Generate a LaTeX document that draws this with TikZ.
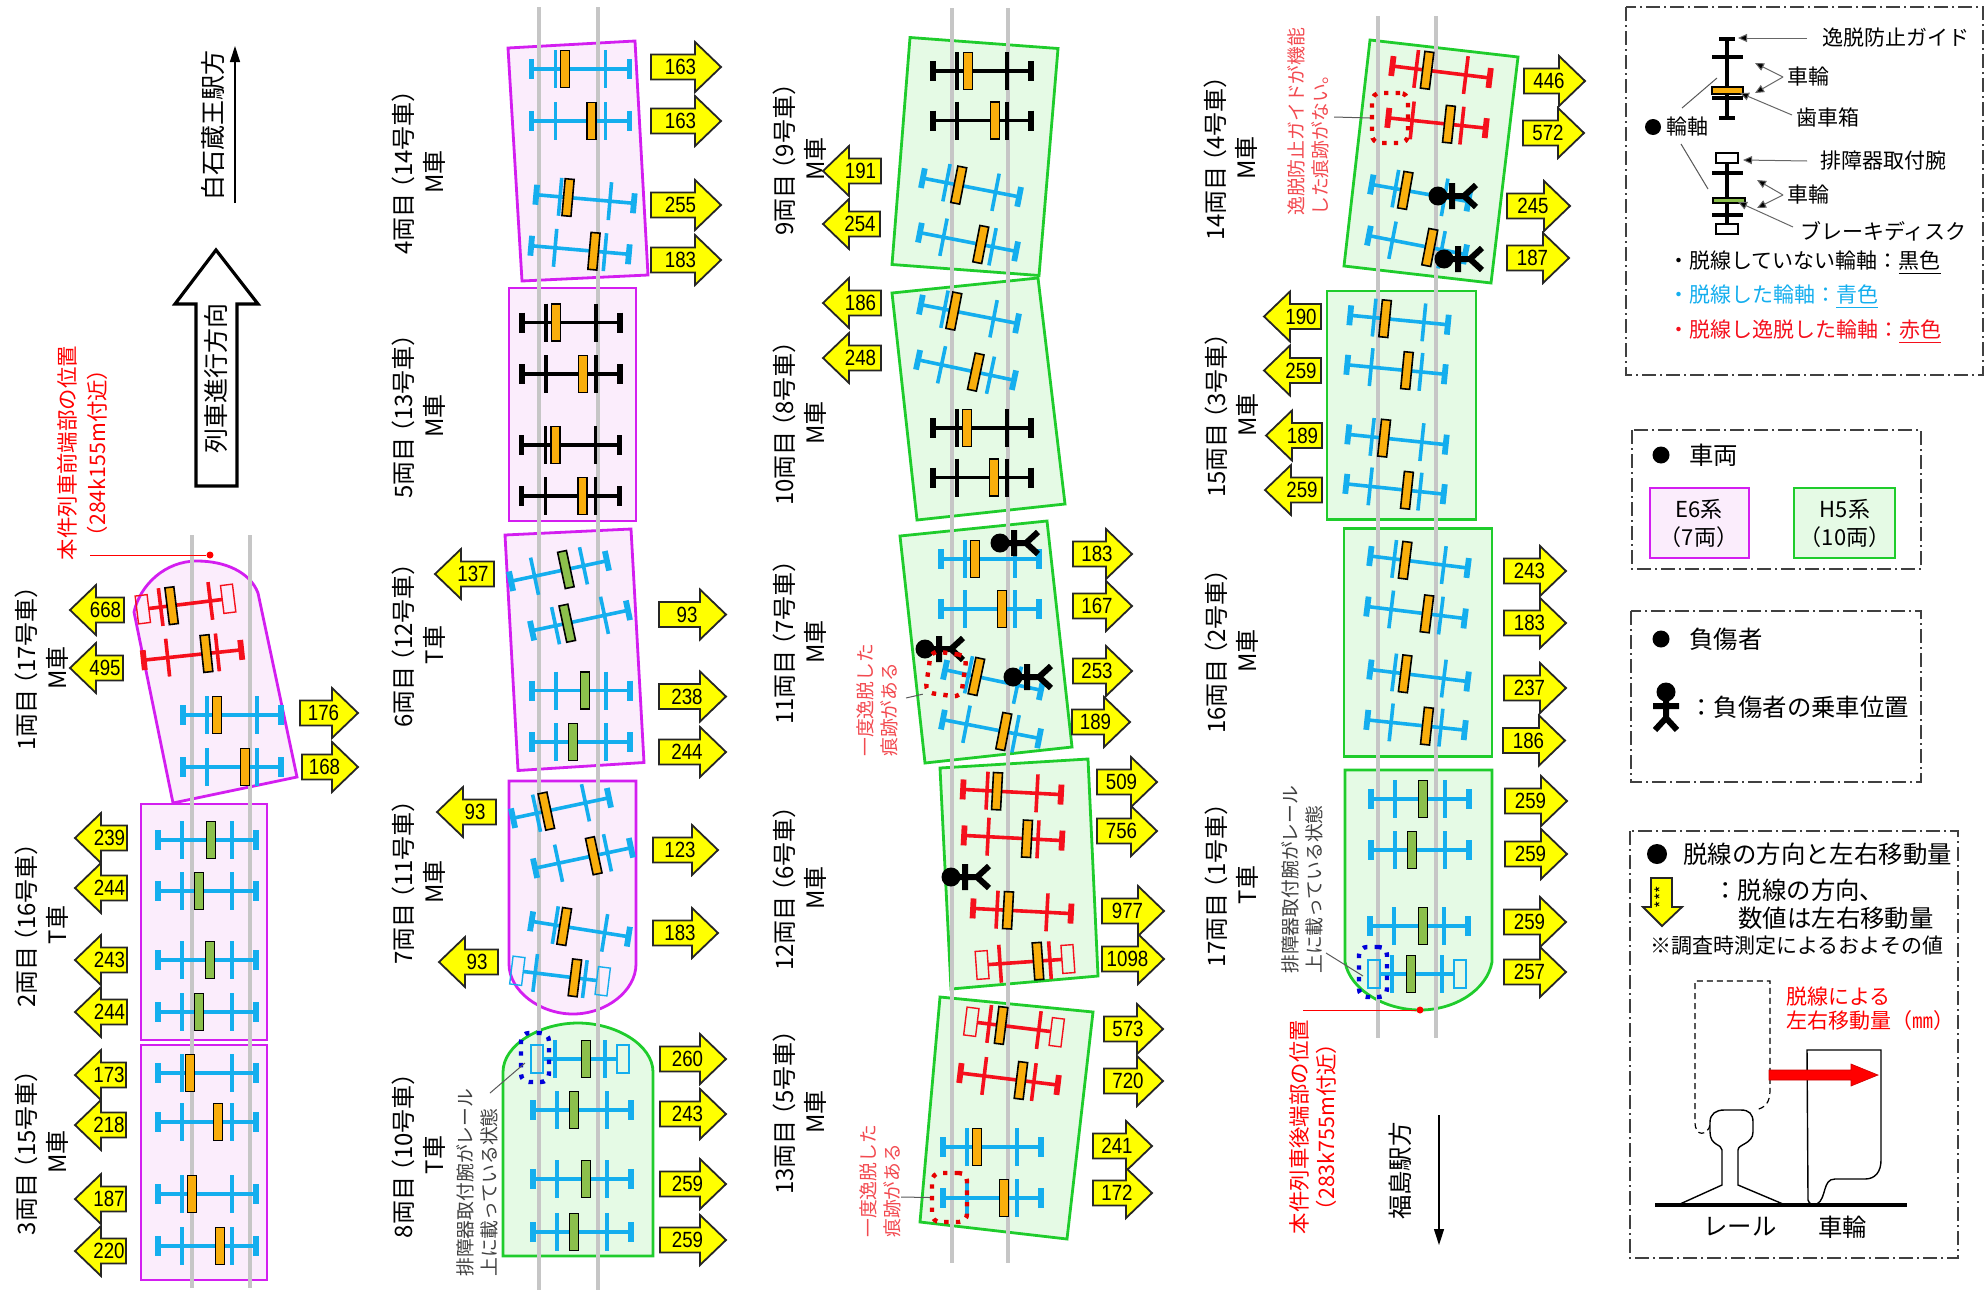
\documentclass[tikz,border=0pt]{standalone}
\usepackage{fontspec}
\usepackage{tikz}
\usetikzlibrary{arrows.meta}
\setmainfont{Noto Sans CJK JP}
\newfontfamily\numfont[FakeStretch=0.85]{Liberation Sans}

\definecolor{axleblue}{HTML}{14AEEE}
\definecolor{axlered}{HTML}{F5101C}
\definecolor{gearorange}{HTML}{F9AE0C}
\definecolor{diskgreen}{HTML}{8CC04C}
\definecolor{eline}{HTML}{D31EF0}
\definecolor{efill}{HTML}{FBEDFC}
\definecolor{hline}{HTML}{1FCC2C}
\definecolor{hfill}{HTML}{E5FAE5}
\definecolor{railgrey}{HTML}{C6C6C6}
\definecolor{notered}{HTML}{F24A50}
\definecolor{valyellow}{HTML}{FFFF00}

\tikzset{
	ecar/.style={draw=eline, fill=efill, line width=1.4pt},
	hcar/.style={draw=hline, fill=hfill, line width=1.4pt},
	rail/.style={draw=railgrey, line width=2pt},
	axleline/.style={line width=1.8pt},
	guideline/.style={line width=2.9pt},
	gearbox/.style={draw=black, line width=0.8pt},
	armbox/.style={line width=0.7pt},
	valarrow/.style={draw=black!85, fill=valyellow, line width=0.9pt, line join=miter},
	valtext/.style={inner sep=0, font=\numfont\fontsize{11}{12}\selectfont},
	carlabel/.style={rotate=90, align=center, inner sep=0, font=\fontsize{12}{15.5}\selectfont},
	notetext/.style={rotate=90, anchor=west, align=left, inner sep=0, font=\fontsize{9.4}{12}\selectfont},
	dotmark/.style={rounded corners=4pt, line width=2.2pt, dash pattern=on 2.2pt off 3.6pt, minimum width=#1, inner sep=0},
	leader/.style={draw=black!65, line width=0.5pt},
	legendbox/.style={draw=black!75, line width=0.6pt, dash pattern=on 7pt off 2pt on 1pt off 2pt},
	lgtext/.style={anchor=west, inner sep=0, font=\fontsize{10.5}{13}\selectfont},
	lgbig/.style={anchor=west, inner sep=0, font=\fontsize{12.2}{14}\selectfont},
	lghead/.style={draw=black!60, line width=0.5pt, -{Triangle[length=4.5pt,width=4pt,fill=black]}},
	reddot/.style={circle, fill=red, inner sep=0, minimum size=3.5pt},
	bulletdot/.style={circle, fill=black, inner sep=0, minimum size=#1},
}

\newcommand{\carno}[1]{\kern-.3em（#1）\kern-.45em}
% colour, box offset, box colour
\newcommand{\axlecore}[3]{%
	\draw[axleline,draw=#1] (-25,-19) -- (-25,19) (25,-19) -- (25,19);
	\filldraw[gearbox,fill=#3] (#2-4.5,-18.5) rectangle (#2+4.5,18.5);
}
% x, y, angle, colour, box offset, box colour
\newcommand{\axle}[6]{%
	\begin{scope}[shift={(#1,#2)},rotate=#3]
		\draw[axleline,draw=#4] (-49,0) -- (49,0);
		\draw[guideline,draw=#4] (-49,-10) -- (-49,10) (49,-10) -- (49,10);
		\axlecore{#4}{#5}{#6}
	\end{scope}
}
\newcommand{\armaxle}[6]{%
	\begin{scope}[shift={(#1,#2)},rotate=#3]
		\draw[axleline,draw=#4] (-37,0) -- (37,0);
		\draw[armbox,draw=#4] (-49,-14) rectangle (-37,14) (37,-14) rectangle (49,14);
		\axlecore{#4}{#5}{#6}
	\end{scope}
}
% base, tip, y, value
\newcommand{\rightval}[4]{%
	\draw[valarrow] (#1,#3-12.5) -- (#2-26,#3-12.5) -- (#2-26,#3-25) -- (#2,#3) -- (#2-26,#3+25) -- (#2-26,#3+12.5) -- (#1,#3+12.5) -- cycle;
	\node[valtext] (val#3x#1) at ({(#1+#2-25)/2+7},#3) {#4};
}
\newcommand{\leftval}[4]{%
	\draw[valarrow] (#1,#3-12.5) -- (#2+26,#3-12.5) -- (#2+26,#3-25) -- (#2,#3) -- (#2+26,#3+25) -- (#2+26,#3+12.5) -- (#1,#3+12.5) -- cycle;
	\node[valtext] (val#3x#1) at ({(#1+#2+25)/2-4},#3) {#4};
}
\newcommand{\person}[3]{%
	\begin{scope}[shift={(#1,#2)},rotate=#3]
		\fill[black] (0,0) circle (9.5);
		\draw[black, line width=3pt] (0,0) -- (26,0) (14,-13) -- (14,13) (38,-11) -- (26,0) -- (38,11);
	\end{scope}
}

\begin{document}
\begin{tikzpicture}[x=0.5pt, y=-0.5pt]
	\useasboundingbox (0,0) rectangle (1984,1290);

	% labels
	\node[carlabel] (car1) at (42,668) {1両目\carno{17号車}\\M車};
	\node[carlabel] (car2) at (42,925) {2両目\carno{16号車}\\T車};
	\node[carlabel] (car3) at (42,1152) {3両目\carno{15号車}\\M車};
	\node[carlabel] (car4) at (419,172) {4両目\carno{14号車}\\M車};
	\node[carlabel] (car5) at (419,416) {5両目\carno{13号車}\\M車};
	\node[carlabel] (car6) at (419,645) {6両目\carno{12号車}\\T車};
	\node[carlabel] (car7) at (419,882) {7両目\carno{11号車}\\M車};
	\node[carlabel] (car8) at (419,1155) {8両目\carno{10号車}\\T車};
	\node[carlabel] (car9) at (800,159) {9両目\carno{9号車}\\M車};
	\node[carlabel] (car10) at (800,423) {10両目\carno{8号車}\\M車};
	\node[carlabel] (car11) at (800,642) {11両目\carno{7号車}\\M車};
	\node[carlabel] (car12) at (800,888) {12両目\carno{6号車}\\M車};
	\node[carlabel] (car13) at (800,1112) {13両目\carno{5号車}\\M車};
	\node[carlabel] (car14) at (1231,158) {14両目\carno{4号車}\\M車};
	\node[carlabel] (car15) at (1232,415) {15両目\carno{3号車}\\M車};
	\node[carlabel] (car16) at (1232,651) {16両目\carno{2号車}\\M車};
	\node[carlabel] (car17) at (1232,885) {17両目\carno{1号車}\\T車};

	% car bodies
	\draw[ecar] (134,612) .. controls (140,585) and (165,561) .. (197,561) .. controls (225,561) and (250,572) .. (258,593) -- (297,777) -- (173,803) -- cycle;
	\draw[ecar] (141,804) rectangle (267,1040);
	\draw[ecar] (141,1045) rectangle (267,1280);
	\draw[ecar] (508,48) -- (635,41) -- (648,275) -- (522,281) -- cycle;
	\draw[ecar] (509,288) rectangle (636,521);
	\draw[ecar] (505,535) -- (631,529) -- (644,762.5) -- (518,770.5) -- cycle;
	\draw[ecar] (509,781) -- (636,781) -- (636,964) .. controls (636,991) and (606,1014) .. (573,1014) .. controls (540,1014) and (509,991) .. (509,964) -- cycle;
	\draw[hcar] (503,1256) -- (503,1072) .. controls (503,1045) and (540,1023) .. (578,1023) .. controls (616,1023) and (653,1045) .. (653,1072) -- (653,1256) -- cycle;
	\draw[hcar] (910,37.5) -- (1058,48.5) -- (1039,275.5) -- (892,264.5) -- cycle;
	\draw[hcar] (892,293) -- (1038,278) -- (1065,504) -- (917,520) -- cycle;
	\draw[hcar] (900,536) -- (1047,521) -- (1072,747) -- (925,763) -- cycle;
	\draw[hcar] (940,768) -- (1088,759) -- (1098,976) -- (951,989) -- cycle;
	\draw[hcar] (940,997) -- (1093,1012) -- (1067,1239) -- (920,1222) -- cycle;
	\draw[hcar] (1370,40) -- (1518,57) -- (1491,283) -- (1344,266) -- cycle;
	\draw[hcar] (1327,291) rectangle (1476,519.5);
	\draw[hcar] (1344,528.5) rectangle (1492,756.5);
	\draw[hcar] (1345,770) -- (1492,770) -- (1492,962) .. controls (1487,990) and (1455,1010) .. (1420,1010) .. controls (1385,1010) and (1350,990) .. (1345,962) -- cycle;

	% rails
	\draw[rail] (192,535) -- (192,1288);
	\draw[rail] (250,535) -- (250,1288);
	\draw[rail] (539,7) -- (539,1290);
	\draw[rail] (598,7) -- (598,1290);
	\draw[rail] (952,8) -- (952,1263);
	\draw[rail] (1008,8) -- (1008,1263);
	\draw[rail] (1378,16) -- (1378,1038);
	\draw[rail] (1436,16) -- (1436,1038);

	% axles
	\armaxle{185.5}{604}{7}{axlered}{-14}{gearorange}
	\axle{192.5}{655}{6}{axlered}{14}{gearorange}
	\axle{232}{715}{0}{axleblue}{-15}{gearorange}
	\axle{232}{767}{0}{axleblue}{13}{gearorange}
	\axle{207}{840}{0}{axleblue}{4}{diskgreen}
	\axle{207}{891}{0}{axleblue}{-8}{diskgreen}
	\axle{207}{960}{0}{axleblue}{3}{diskgreen}
	\axle{207}{1012}{0}{axleblue}{-8}{diskgreen}
	\axle{207}{1073}{0}{axleblue}{-17}{gearorange}
	\axle{207}{1122}{0}{axleblue}{11}{gearorange}
	\axle{207}{1194}{0}{axleblue}{-15}{gearorange}
	\axle{207}{1246}{0}{axleblue}{13}{gearorange}

	\axle{580.5}{69}{0}{axleblue}{-15.5}{gearorange}
	\axle{580.5}{121}{0}{axleblue}{11}{gearorange}
	\axle{585}{199}{-5}{axleblue}{-17}{gearorange}
	\axle{580}{250}{-5}{axleblue}{14}{gearorange}
	\axle{571}{322.5}{0}{black}{-15}{gearorange}
	\axle{571}{374}{0}{black}{12}{gearorange}
	\axle{570.5}{445}{0}{black}{-15}{gearorange}
	\axle{570.5}{496}{0}{black}{12}{gearorange}
	\axle{559}{571}{12}{axleblue}{7}{diskgreen}
	\axle{580}{620.5}{12}{axleblue}{-13}{diskgreen}
	\axle{581}{690.5}{0}{axleblue}{4}{diskgreen}
	\axle{581}{742}{0}{axleblue}{-8}{diskgreen}
	\axle{561}{808}{12}{axleblue}{-15}{gearorange}
	\axle{583}{858}{12}{axleblue}{11}{gearorange}
	\axle{580}{929}{-9}{axleblue}{-16}{gearorange}
	\armaxle{560}{976}{-7}{axleblue}{15}{gearorange}
	\armaxle{580}{1059}{0}{axleblue}{6}{diskgreen}
	\axle{582}{1110}{0}{axleblue}{-8}{diskgreen}
	\axle{582}{1179}{0}{axleblue}{4}{diskgreen}
	\axle{582}{1232}{0}{axleblue}{-8}{diskgreen}

	\axle{982}{71}{0}{black}{-14}{gearorange}
	\axle{982}{120.5}{0}{black}{13}{gearorange}
	\axle{971}{187.5}{-11}{axleblue}{-12.5}{gearorange}
	\axle{968}{242}{-11}{axleblue}{13}{gearorange}
	\axle{969}{314}{-11}{axleblue}{-15.5}{gearorange}
	\axle{966}{370}{-12}{axleblue}{10}{gearorange}
	\axle{982}{428}{0}{black}{-15}{gearorange}
	\axle{982}{477.5}{0}{black}{12}{gearorange}
	\axle{990}{559}{0}{axleblue}{-15}{gearorange}
	\axle{990}{609}{0}{axleblue}{12}{gearorange}
	\axle{993}{680}{-12}{axleblue}{-17}{gearorange}
	\axle{991}{729}{-11}{axleblue}{13}{gearorange}
	\axle{1012}{792}{-3}{axlered}{-15}{gearorange}
	\axle{1013}{838}{-3}{axlered}{14}{gearorange}
	\axle{1022}{911}{-3}{axlered}{-14}{gearorange}
	\armaxle{1025}{962}{4}{axlered}{13}{gearorange}
	\armaxle{1014}{1027}{-7}{axlered}{-13}{gearorange}
	\axle{1009}{1079}{-7}{axlered}{12}{gearorange}
	\axle{992}{1147}{0}{axleblue}{-15}{gearorange}
	\axle{992}{1198}{0}{axleblue}{12}{gearorange}

	\axle{1441}{72}{-7}{axlered}{-14}{gearorange}
	\axle{1437}{123}{-6}{axlered}{12}{gearorange}
	\axle{1420}{193}{-10}{axleblue}{-15}{gearorange}
	\axle{1417}{245}{-11}{axleblue}{13}{gearorange}
	\axle{1399}{320}{-5.5}{axleblue}{-14}{gearorange}
	\axle{1396}{369.5}{-5.5}{axleblue}{11}{gearorange}
	\axle{1397}{439.5}{-6}{axleblue}{-13}{gearorange}
	\axle{1395}{489}{-6}{axleblue}{12}{gearorange}
	\axle{1419}{562}{-7}{axleblue}{-14}{gearorange}
	\axle{1416}{612.5}{-7}{axleblue}{11}{gearorange}
	\axle{1419}{675.5}{-7}{axleblue}{-14}{gearorange}
	\axle{1416}{725}{-6}{axleblue}{11}{gearorange}
	\axle{1420}{799}{0}{axleblue}{3}{diskgreen}
	\axle{1420}{850}{0}{axleblue}{-8}{diskgreen}
	\axle{1419}{926}{0}{axleblue}{4}{diskgreen}
	\armaxle{1417}{974}{0}{axleblue}{-6}{diskgreen}

	% passengers
	\person{1000}{543}{0}
	\person{925}{649}{0}
	\person{1013}{677}{0}
	\person{951}{877}{0}
	\person{1438}{196}{0}
	\person{1444}{259}{0}

	% movement values
	\leftval{124}{70}{610}{668}
	\leftval{123}{70}{668}{495}
	\rightval{300}{358}{713}{176}
	\rightval{302}{358}{767}{168}
	\leftval{127}{75}{838}{239}
	\leftval{127}{75}{888}{244}
	\leftval{127}{75}{960}{243}
	\leftval{127}{75}{1012}{244}
	\leftval{126}{75}{1075}{173}
	\leftval{126}{75}{1125}{218}
	\leftval{126}{75}{1199}{187}
	\leftval{126}{75}{1251}{220}

	\rightval{651}{721}{67}{163}
	\rightval{651}{721}{121}{163}
	\rightval{651}{721}{205}{255}
	\rightval{651}{721}{260}{183}
	\leftval{494}{435}{574}{137}
	\rightval{659}{726}{614.5}{93}
	\rightval{659}{726}{696.5}{238}
	\rightval{659}{726}{752}{244}
	\leftval{496}{437}{812}{93}
	\rightval{653}{718}{850}{123}
	\rightval{653}{718}{933}{183}
	\leftval{498}{439}{962}{93}
	\rightval{660}{726}{1059}{260}
	\rightval{660}{726}{1114}{243}
	\rightval{660}{726}{1184}{259}
	\rightval{660}{726}{1240}{259}

	\leftval{881}{823}{171}{191}
	\leftval{880}{823}{224}{254}
	\leftval{881}{823}{303}{186}
	\leftval{881}{823}{358}{248}
	\rightval{1073}{1132}{554}{183}
	\rightval{1073}{1132}{606}{167}
	\rightval{1073}{1132}{671}{253}
	\rightval{1072}{1130}{722}{189}
	\rightval{1097}{1157}{782}{509}
	\rightval{1097}{1157}{831}{756}
	\rightval{1102}{1164}{911}{977}
	\rightval{1102}{1164}{959}{1098}
	\rightval{1104}{1163}{1029}{573}
	\rightval{1104}{1163}{1081}{720}
	\rightval{1093}{1152}{1146}{241}
	\rightval{1093}{1152}{1193}{172}

	\rightval{1524}{1585}{81}{446}
	\rightval{1523}{1584}{133}{572}
	\rightval{1507}{1570}{206}{245}
	\rightval{1507}{1569}{258}{187}
	\leftval{1321}{1264}{316.5}{190}
	\leftval{1321}{1264}{370.5}{259}
	\leftval{1322}{1266}{435.5}{189}
	\leftval{1322}{1265}{490}{259}
	\rightval{1504}{1566}{571}{243}
	\rightval{1504}{1566}{623}{183}
	\rightval{1504}{1566}{688}{237}
	\rightval{1503}{1565}{740.5}{186}
	\rightval{1505}{1567}{801}{259}
	\rightval{1505}{1567}{854}{259}
	\rightval{1504}{1566}{922}{259}
	\rightval{1504}{1566}{972}{257}

	% marks and notes
	\node[dotmark=14pt, minimum height=24.5pt, draw=blue!85!black] (mark8) at (535,1057.5) {};
	\node[dotmark=14pt, minimum height=25pt, draw=blue!85!black] (mark17) at (1373,972) {};
	\node[dotmark=18pt, minimum height=21pt, draw=red!90!black, rotate=-8] (mark11) at (946,674) {};
	\node[dotmark=17.5pt, minimum height=24.5pt, draw=red!90!black] (mark13) at (949.5,1197.5) {};
	\node[dotmark=18pt, minimum height=25pt, draw=red!90!black] (mark14) at (1390,118) {};

	\node[notetext, text=black!75] (note8) at (477,1277) {排障器取付腕がレール\\上に載っている状態};
	\node[notetext, text=black!75] (note17) at (1302,974) {排障器取付腕がレール\\上に載っている状態};
	\node[notetext, text=notered] (note11) at (877,757) {一度逸脱した\\痕跡がある};
	\node[notetext, text=notered] (note13) at (880,1238) {一度逸脱した\\痕跡がある};
	\node[notetext, text=notered] (note14) at (1308,216) {逸脱防止ガイドが機能\\した痕跡がない。};

	\coordinate (lead8) at (490,1093);
	\coordinate (lead17) at (1326,953);
	\coordinate (lead11) at (906,698);
	\coordinate (lead13) at (901,1197);
	\coordinate (lead14) at (1334,117);
	\coordinate (hit8) at (525,1063);
	\coordinate (hit17) at (1363,976);
	\draw[leader] (lead8) -- (hit8);
	\draw[leader] (lead17) -- (hit17);
	\draw[leader] (lead11) -- (mark11.south west);
	\draw[leader] (lead13) -- (mark13.west);
	\draw[leader] (lead14) -- (mark14.west);

	% train ends
	\node[rotate=90, align=center, inner sep=0, text=red, font=\fontsize{10.7}{15}\selectfont] (frontnote) at (82,453) {本件列車前端部の位置\\（284k155m付近）};
	\node[rotate=90, align=center, inner sep=0, text=red, font=\fontsize{10.7}{13.5}\selectfont] (rearnote) at (1313,1127) {本件列車後端部の位置\\（283k755m付近）};
	\node[reddot] (frontdot) at (210,555) {};
	\node[reddot] (reardot) at (1420,1010) {};
	\coordinate (frontend) at (90,555);
	\coordinate (rearend) at (1303,1010);
	\draw[red, line width=0.5pt] (frontend) -- (frontdot);
	\draw[red, line width=0.5pt] (rearend) -- (reardot);

	% directions
	\draw[black, line width=1.6pt, fill=white] (216,250) -- (258,304) -- (237,304) -- (237,486) -- (196,486) -- (196,304) -- (175,304) -- cycle;
	\node[rotate=90, inner sep=0, font=\fontsize{12.5}{14}\selectfont] (travel) at (216,378) {列車進行方向};
	\node[rotate=90, inner sep=0, font=\fontsize{12.5}{14}\selectfont] (shiroishi) at (213,125) {白石蔵王駅方};
	\coordinate (northfrom) at (235,203);
	\coordinate (northto) at (235,46);
	\draw[line width=0.6pt, -{Triangle[length=8pt,width=5pt]}] (northfrom) -- (northto);
	\node[rotate=90, inner sep=0, font=\fontsize{12.2}{14}\selectfont] (fukushima) at (1400,1171) {福島駅方};
	\coordinate (southfrom) at (1439,1115);
	\coordinate (southto) at (1439,1245);
	\draw[line width=0.6pt, -{Triangle[length=8pt,width=5pt]}] (southfrom) -- (southto);

	% legend: axles
	\draw[legendbox] (1626,7) rectangle (1983,375);
	\draw[black, line width=1.6pt] (1727,39) -- (1727,118) (1712,57) -- (1743,57) (1712,98) -- (1743,98);
	\draw[black, line width=2.2pt] (1719,39) -- (1735,39) (1719,118) -- (1735,118);
	\filldraw[gearbox, fill=gearorange] (1712,87) rectangle (1743,94);
	\draw[black, line width=1.6pt] (1727,163) -- (1727,224) (1712,173) -- (1743,173) (1712,215) -- (1743,215);
	\draw[gearbox, fill=white] (1716,153) rectangle (1738,163);
	\draw[gearbox, fill=white] (1716,224) rectangle (1738,234);
	\filldraw[gearbox, fill=diskgreen] (1713,198) rectangle (1745,203);

	\node[lgtext] (lgguide) at (1822,38) {逸脱防止ガイド};
	\node[lgtext] (lgwheela) at (1787,77) {車輪};
	\node[lgtext] (lggear) at (1796,118) {歯車箱};
	\node[lgtext] (lgaxle) at (1666,127) {輪軸};
	\node[bulletdot=8pt] (lgaxledot) at (1653,127) {};
	\node[lgtext] (lgarm) at (1820,161) {排障器取付腕};
	\node[lgtext] (lgwheelb) at (1787,195) {車輪};
	\node[lgtext] (lgdisc) at (1800,231) {ブレーキディスク};
	\coordinate (lgguidetip) at (1738,38);
	\coordinate (lgwheeltipa) at (1755,63);
	\coordinate (lgwheeltipb) at (1755,93);
	\coordinate (lggeartip) at (1740,93);
	\coordinate (lgarmtip) at (1743,160);
	\coordinate (lgwheeltipc) at (1757,180);
	\coordinate (lgwheeltipd) at (1757,208);
	\coordinate (lgdisctip) at (1738,202);
	\coordinate (lgaxleup) at (1717,78);
	\coordinate (lgaxlelow) at (1708,189);
	\draw[lghead] ([xshift=-7.5pt]lgguide.west) -- (lgguidetip);
	\draw[lghead] ([xshift=-2pt]lgwheela.west) -- (lgwheeltipa);
	\draw[lghead] ([xshift=-2pt]lgwheela.west) -- (lgwheeltipb);
	\draw[lghead] ([xshift=-2pt,yshift=1.5pt]lggear.west) -- (lggeartip);
	\draw[lghead] ([xshift=-6.5pt]lgarm.west) -- (lgarmtip);
	\draw[lghead] ([xshift=-2pt]lgwheelb.west) -- (lgwheeltipc);
	\draw[lghead] ([xshift=-2pt]lgwheelb.west) -- (lgwheeltipd);
	\draw[lghead] ([xshift=-3.5pt,yshift=2pt]lgdisc.west) -- (lgdisctip);
	\draw[leader] ([xshift=8pt,yshift=9.5pt]lgaxle.west) -- (lgaxleup);
	\draw[leader] ([xshift=7.5pt,yshift=-8.5pt]lgaxle.west) -- (lgaxlelow);

	\node[lgtext] (lgblack) at (1668,263) {・脱線していない輪軸：\underline{黒色}};
	\node[lgtext, text=axleblue] (lgblue) at (1668,297) {・脱線した輪軸：\underline{青色}};
	\node[lgtext, text=axlered] (lgred) at (1668,332) {・脱線し逸脱した輪軸：\underline{赤色}};

	% legend: car types
	\draw[legendbox] (1632,430) rectangle (1921,569);
	\node[bulletdot=8.5pt] (lgcardot) at (1661,455) {};
	\node[lgbig] (lgcars) at (1689,455) {車両};
	\draw[ecar] (1650,488) rectangle (1749,558);
	\draw[hcar] (1794,488) rectangle (1895,558);
	\node[align=center, inner sep=0, font=\fontsize{11}{14}\selectfont] (lge) at (1699,523) {E6系\\（7両）};
	\node[align=center, inner sep=0, font=\fontsize{11}{14}\selectfont] (lgh) at (1845,523) {H5系\\（10両）};

	% legend: injured
	\draw[legendbox] (1631,611) rectangle (1921,782);
	\node[bulletdot=8.5pt] (lginjdot) at (1661,639) {};
	\node[lgbig] (lginj) at (1689,639) {負傷者};
	\person{1666}{692}{-90}
	\node[lgbig] (lgseat) at (1689,707) {：負傷者の乗車位置};

	% legend: direction and amount
	\draw[legendbox] (1630,831) rectangle (1958,1258);
	\node[bulletdot=10pt] (lgdirdot) at (1657,854) {};
	\node[lgbig] (lgdir) at (1683,854) {脱線の方向と左右移動量};
	\draw[valarrow] (1651,878) -- (1672,878) -- (1672,907) -- (1682,907) -- (1662,926) -- (1643,907) -- (1651,907) -- cycle;
	\node[rotate=90, inner sep=0, font=\fontsize{8}{9}\selectfont] (lgstars) at (1661.5,897) {***};
	\node[lgbig] (lgdira) at (1713,890) {：脱線の方向、};
	\node[lgbig] (lgdirb) at (1738,918) {数値は左右移動量};
	\node[lgtext] (lgdirc) at (1650,946) {※調査時測定によるおよその値};

	\draw[black, densely dashed, line width=0.6pt] (1710,1125) .. controls (1708,1135) and (1695,1138) .. (1695,1122) -- (1695,981) -- (1770,981) -- (1770,1090) .. controls (1770,1103) and (1765,1108) .. (1755,1110);
	\draw[black, line width=0.7pt, fill=white] (1680,1204) -- (1722,1185) -- (1722,1150) .. controls (1722,1144) and (1710,1146) .. (1710,1132) -- (1710,1122) .. controls (1710,1114) and (1716,1110) .. (1724,1110) -- (1741,1110) .. controls (1749,1110) and (1753,1114) .. (1753,1122) -- (1753,1132) .. controls (1753,1144) and (1738,1144) .. (1738,1150) -- (1738,1185) -- (1783,1204);
	\draw[black, line width=0.7pt] (1808,1200) -- (1807,1050) -- (1881,1050) -- (1881,1160) .. controls (1881,1172) and (1875,1179) .. (1865,1179) -- (1835,1179) .. controls (1822,1179) and (1827,1198) .. (1817,1204) .. controls (1813,1206) and (1809,1204) .. (1808,1200);
	\draw[black, line width=1.6pt] (1655,1205) -- (1907,1205);
	\draw[draw=red!80!black, fill=red, line width=0.3pt] (1769,1070) -- (1851,1070) -- (1851,1064) -- (1878,1075) -- (1851,1086) -- (1851,1080) -- (1769,1080) -- cycle;
	\node[lgtext, text=red] (lgreda) at (1786,996) {脱線による};
	\node[lgtext, text=red] (lgredb) at (1786,1021) {左右移動量（㎜）};
	\node[lgbig] (lgrail) at (1703,1227) {レール};
	\node[lgbig] (lgwheelc) at (1818,1227) {車輪};
\end{tikzpicture}
\end{document}
